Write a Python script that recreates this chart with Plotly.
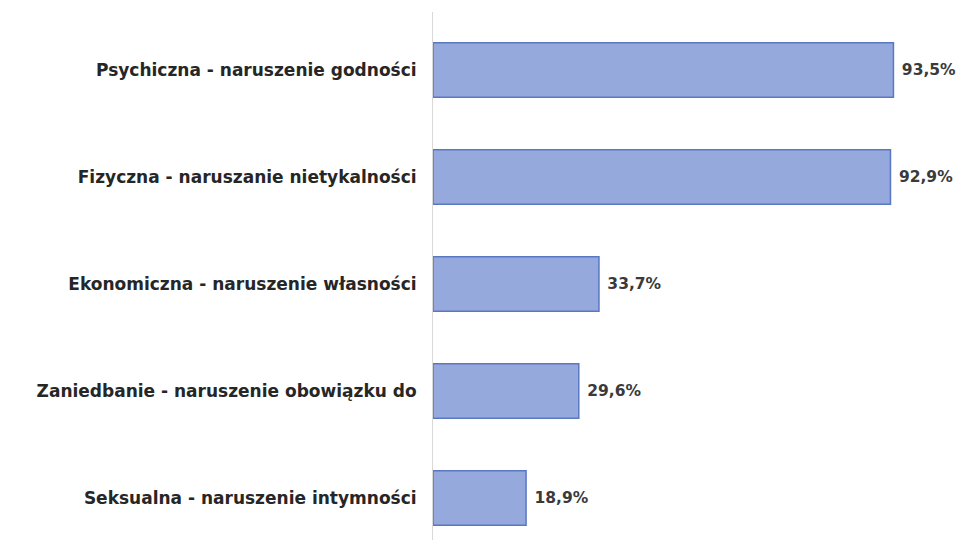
import plotly.graph_objects as go

categories = [
    "Psychiczna - naruszenie godności",
    "Fizyczna - naruszanie nietykalności",
    "Ekonomiczna - naruszenie własności",
    "Zaniedbanie - naruszenie obowiązku do",
    "Seksualna - naruszenie intymności",
]
values = [93.5, 92.9, 33.7, 29.6, 18.9]
labels = [" " + f"{v:.1f}%".replace(".", ",") for v in values]

FONT = "DejaVu Sans"

fig = go.Figure(
    go.Bar(
        y=categories,
        x=values,
        orientation="h",
        width=0.51,
        marker=dict(color="#96a9dd", line=dict(color="#5a77c4", width=1.5)),
        text=labels,
        textposition="outside",
        cliponaxis=False,
        constraintext="none",
        textfont=dict(family=FONT, size=15.5, color="#3a3a3a", weight="bold"),
        hoverinfo="skip",
    )
)

fig.update_layout(
    width=963,
    height=540,
    margin=dict(l=433, r=8, t=12, b=0),
    paper_bgcolor="white",
    plot_bgcolor="white",
    showlegend=False,
    xaxis=dict(range=[0, 106], visible=False, fixedrange=True),
    yaxis=dict(
        type="category",
        categoryorder="array",
        categoryarray=categories,
        range=[4.393, -0.542],
        showline=True,
        linecolor="#d9d9d9",
        linewidth=1,
        showgrid=False,
        ticks="",
        ticklabelstandoff=12,
        tickfont=dict(family=FONT, size=17, color="#262626", weight="bold"),
        automargin=False,
        fixedrange=True,
    ),
)

fig.write_html(
    "out.html",
    config={"displayModeBar": False},
    post_script="document.body.style.margin='0';",
)
